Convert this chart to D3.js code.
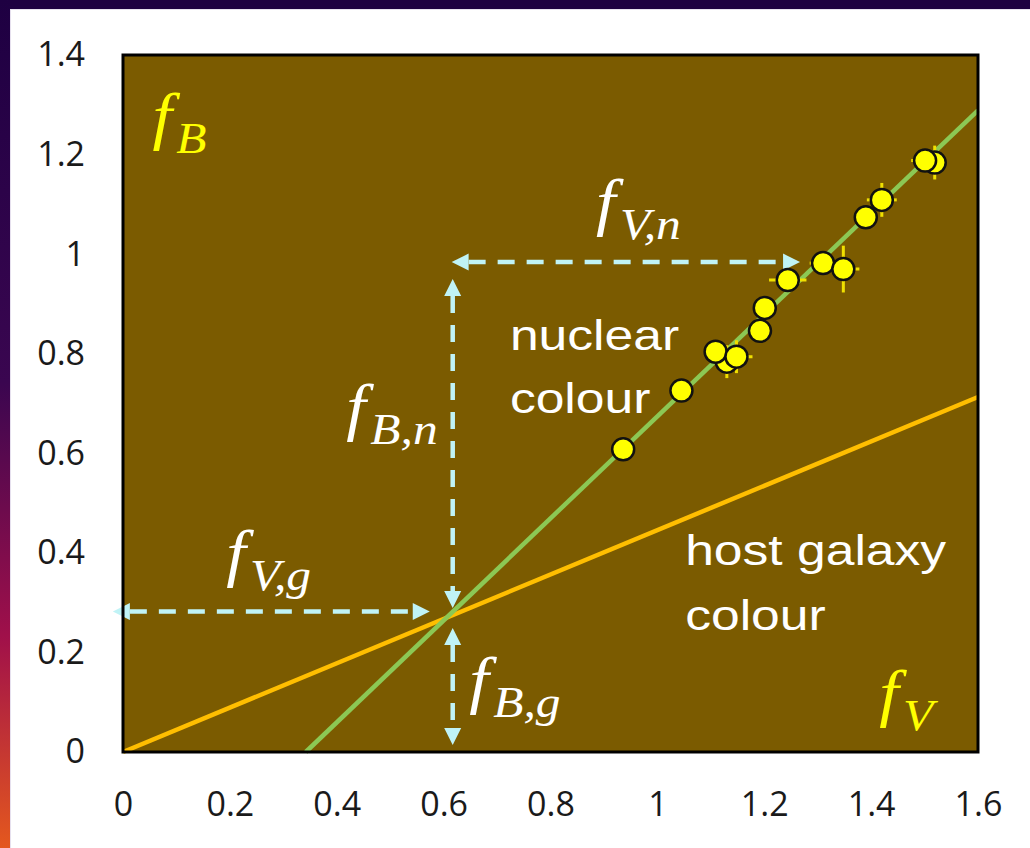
<!DOCTYPE html>
<html>
<head>
<meta charset="utf-8">
<script src="https://cdn.jsdelivr.net/npm/d3@7"></script>
<style>
  body { margin: 0; background: #ffffff; }
  svg { display: block; }
</style>
</head>
<body>
<svg id="chart"></svg>
<script>
// nuclear / host galaxy colour decomposition (fB vs fV)
var width = 1030
var height = 848

var xTicks = [0, 0.2, 0.4, 0.6, 0.8, 1, 1.2, 1.4, 1.6]
var yTicks = [0, 0.2, 0.4, 0.6, 0.8, 1, 1.2, 1.4]

// measured points (draw order: back to front)
var fV =    [0.936, 1.045, 1.130, 1.109, 1.148, 1.192, 1.201, 1.244, 1.310, 1.348, 1.390, 1.420, 1.519, 1.501]
var fB =    [0.608, 0.726, 0.784, 0.804, 0.794, 0.846, 0.892, 0.948, 0.982, 0.970, 1.074, 1.109, 1.184, 1.188]
var fVerr = [0.010, 0.010, 0.020, 0.020, 0.030, 0.015, 0.015, 0.035, 0.025, 0.030, 0.012, 0.028, 0.015, 0.026]
var fBerr = [0.010, 0.010, 0.033, 0.020, 0.033, 0.015, 0.015, 0.015, 0.015, 0.047, 0.020, 0.034, 0.034, 0.015]

// fitted lines: nuclear colour (green) and host galaxy colour (orange)
var nuclearLineX = [0.342, 1.6]
var nuclearLineY = [0, 1.289]
var hostLineX = [0, 1.6]
var hostLineY = [0, 0.713]

// dashed double arrows
var arrowX1 = [0.615, 0.617, -0.019, 0.617]
var arrowY1 = [0.984, 0.950, 0.282, 0.249]
var arrowX2 = [1.267, 0.617, 0.574, 0.617]
var arrowY2 = [0.984, 0.289, 0.282, 0.014]

// math labels f_sub
var mathSub = ["B", "V", "V,n", "B,n", "V,g", "B,g"]
var mathX = [0.055, 1.415, 0.885, 0.418, 0.193, 0.648]
var mathY = [1.235, 0.076, 1.063, 0.651, 0.357, 0.102]
var mathColor = ["#ffff00", "#ffff00", "#ffffff", "#ffffff", "#ffffff", "#ffffff"]

var wordText = ["nuclear", "colour", "host galaxy", "colour"]
var wordX = [0.724, 0.724, 1.052, 1.052]
var wordY = [0.807, 0.681, 0.376, 0.245]

var plotLeft = 123, plotRight = 978, plotTop = 55, plotBottom = 752

var svg = d3.select("#chart").attr("width", width).attr("height", height)

// slide frame
var defs = svg.append("defs")
var grad = defs.append("linearGradient").attr("id", "edge").attr("x1", 0).attr("y1", 0).attr("x2", 0).attr("y2", 1)
grad.append("stop").attr("offset", "0%").attr("stop-color", "#1e0042")
grad.append("stop").attr("offset", "45%").attr("stop-color", "#3a0650")
grad.append("stop").attr("offset", "75%").attr("stop-color", "#a0104a")
grad.append("stop").attr("offset", "100%").attr("stop-color", "#e4581e")

svg.append("rect").attr("width", width).attr("height", height).attr("fill", "#1e0042")
svg.append("rect").attr("x", 0).attr("y", 0).attr("width", 10).attr("height", height).attr("fill", "url(#edge)")
svg.append("rect").attr("x", 10).attr("y", 9).attr("width", width - 10).attr("height", height - 9).attr("fill", "#e6e0ee")
svg.append("rect").attr("x", 11).attr("y", 10).attr("width", width - 11).attr("height", height - 10).attr("fill", "#ffffff")

var x = d3.scaleLinear().domain([0, 1.6]).range([plotLeft, plotRight])
var y = d3.scaleLinear().domain([0, 1.4]).range([plotBottom, plotTop])

svg.append("rect")
    .attr("x", plotLeft).attr("y", plotTop)
    .attr("width", plotRight - plotLeft).attr("height", plotBottom - plotTop)
    .attr("fill", "#7b5b00")

var fmt = d => String(+d.toFixed(1))

var xAxis = svg.append("g")
    .attr("transform", "translate(0," + plotBottom + ")")
    .call(d3.axisBottom(x).tickValues(xTicks).tickFormat(fmt).tickSize(0).tickPadding(40))
var yAxis = svg.append("g")
    .attr("transform", "translate(" + plotLeft + ",0)")
    .call(d3.axisLeft(y).tickValues(yTicks).tickFormat(fmt).tickSize(0).tickPadding(38))
;[xAxis, yAxis].forEach(function(g) {
    g.select(".domain").remove()
    g.selectAll("text")
        .attr("fill", "#1a1a1a")
        .style("font-family", "'Open Sans', sans-serif")
        .style("font-size", "34px")
})

// lines
var line = d3.line().x(d => x(d[0])).y(d => y(d[1]))
svg.append("path")
    .attr("d", line(d3.zip(hostLineX, hostLineY)))
    .attr("stroke", "#ffbe00").attr("stroke-width", 4.5).attr("fill", "none")
svg.append("path")
    .attr("d", line(d3.zip(nuclearLineX, nuclearLineY)))
    .attr("stroke", "#8cc854").attr("stroke-width", 4.5).attr("fill", "none")

// dashed arrows
var headLen = 17, headHalf = 8.5
for (var i = 0; i < arrowX1.length; i++) {
    var ax1 = x(arrowX1[i]), ay1 = y(arrowY1[i]), ax2 = x(arrowX2[i]), ay2 = y(arrowY2[i])
    var len = Math.hypot(ax2 - ax1, ay2 - ay1)
    var ux = (ax2 - ax1) / len, uy = (ay2 - ay1) / len
    svg.append("line")
        .attr("x1", ax1 + ux * headLen).attr("y1", ay1 + uy * headLen)
        .attr("x2", ax2 - ux * headLen).attr("y2", ay2 - uy * headLen)
        .attr("stroke", "#c0f3f6").attr("stroke-width", 4.5)
        .attr("stroke-dasharray", "17,12")
    ;[[ax1, ay1, -ux, -uy], [ax2, ay2, ux, uy]].forEach(function(t) {
        var tx = t[0], ty = t[1], dx = t[2], dy = t[3]
        var bx = tx - dx * headLen, by = ty - dy * headLen
        svg.append("path")
            .attr("d", "M" + tx + "," + ty +
                "L" + (bx - dy * headHalf) + "," + (by + dx * headHalf) +
                "L" + (bx + dy * headHalf) + "," + (by - dx * headHalf) + "Z")
            .attr("fill", "#c0f3f6")
    })
}

// error bars + points
var pts = d3.range(fV.length)
var errG = svg.append("g").attr("stroke", "#f0e000").attr("stroke-width", 3)
pts.forEach(function(i) {
    errG.append("line")
        .attr("x1", x(fV[i] - fVerr[i])).attr("x2", x(fV[i] + fVerr[i]))
        .attr("y1", y(fB[i])).attr("y2", y(fB[i]))
    errG.append("line")
        .attr("x1", x(fV[i])).attr("x2", x(fV[i]))
        .attr("y1", y(fB[i] - fBerr[i])).attr("y2", y(fB[i] + fBerr[i]))
})
svg.append("g").selectAll("circle")
    .data(pts)
    .join("circle")
    .attr("cx", i => x(fV[i]))
    .attr("cy", i => y(fB[i]))
    .attr("r", 11)
    .attr("fill", "#ffff00")
    .attr("stroke", "#111111")
    .attr("stroke-width", 2.5)

// plot frame
svg.append("rect")
    .attr("x", plotLeft).attr("y", plotTop)
    .attr("width", plotRight - plotLeft).attr("height", plotBottom - plotTop)
    .attr("fill", "none").attr("stroke", "#000000").attr("stroke-width", 3)

// math labels
mathSub.forEach(function(s, i) {
    var t = svg.append("text")
        .attr("transform", "translate(" + x(mathX[i]) + "," + y(mathY[i]) + ") scale(1.1,1)")
        .attr("fill", mathColor[i])
        .style("font-family", "'Liberation Serif', 'Times New Roman', serif")
        .style("font-style", "italic")
    t.append("tspan").style("font-size", "64px").text("f")
    t.append("tspan").attr("dx", 4).attr("dy", 16).style("font-size", "45px").text(s)
})

// word labels
wordText.forEach(function(w, i) {
    svg.append("text")
        .attr("transform", "translate(" + x(wordX[i]) + "," + y(wordY[i]) + ") scale(1.2,1)")
        .attr("fill", "#ffffff")
        .style("font-family", "'Liberation Sans', Arial, sans-serif")
        .style("font-size", "43px")
        .text(w)
})
</script>
</body>
</html>
